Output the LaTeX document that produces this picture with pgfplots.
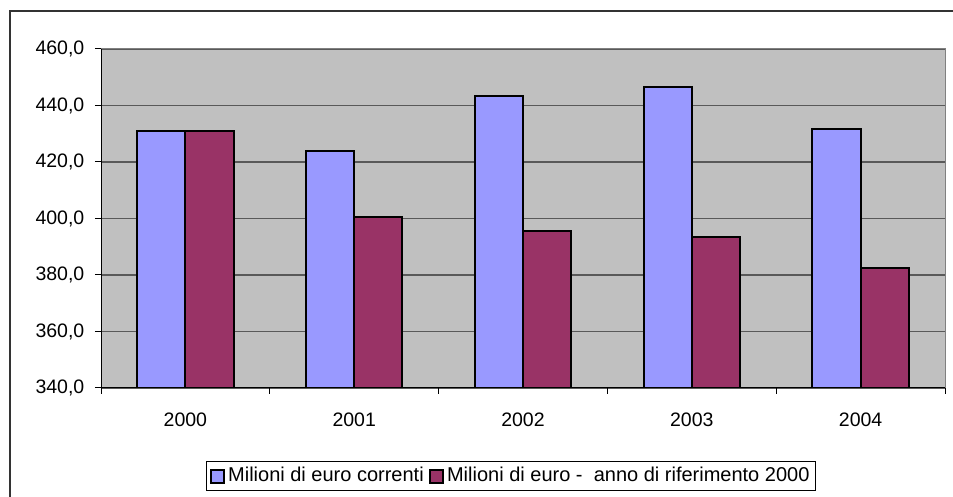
\documentclass[border=0pt]{standalone}
\usepackage{fontspec}
\setmainfont{Liberation Sans}
\usepackage{pgfplots}
\pgfplotsset{compat=1.18}
\definecolor{cblue}{HTML}{9999FF}
\definecolor{cmaroon}{HTML}{993366}
\definecolor{plotbg}{HTML}{C0C0C0}
\definecolor{gridc}{HTML}{595959}
\definecolor{framec}{HTML}{333333}
\pgfplotsset{mylegend/.style={legend image code/.code={\draw[##1, line width=1.8pt] (0pt,-6.5pt) rectangle (13.5pt,6.5pt);}}}
\begin{document}
\fontsize{19.5}{23}\selectfont
\begin{tikzpicture}[x=1pt,y=1pt]
\useasboundingbox (0,0) rectangle (953,497);
\draw[line width=1.2pt, color=framec] (10,-5) -- (10,486) -- (960,486);
\begin{axis}[
  at={(101pt,109pt)}, anchor=south west,
  scale only axis, width=844pt, height=339pt,
  xmin=-0.5, xmax=4.5, ymin=340, ymax=460,
  axis background/.style={fill=plotbg},
  axis line style={draw=gray, line width=1pt},
  ytick={340,360,...,460},
  yticklabel style={xshift=-4pt, /pgf/number format/.cd, fixed, fixed zerofill, precision=1, use comma, assume math mode=true},
  xtick={0,1,2,3,4},
  xticklabels={2000,2001,2002,2003,2004},
  major x tick style={draw=none},
  minor xtick={-0.5,0.5,1.5,2.5,3.5,4.5},
  tick align=outside,
  xtick pos=bottom, ytick pos=left,
  major tick length=6pt, minor tick length=6pt,
  tick style={black, line width=1pt},
  ymajorgrids, major grid style={gridc, line width=1.1pt},
  xticklabel style={yshift=-12pt},
  legend columns=2,
  legend style={at={(0.486,-0.26)}, anchor=center, draw=black, line width=1pt, inner xsep=3pt, inner ysep=4pt,
    font=\fontsize{20}{24}\selectfont,
    nodes={inner xsep=3pt},
    /tikz/every even column/.append style={column sep=2pt}},
]
\addplot[ybar, bar width=0.2857, bar shift=-0.14285, fill=cblue, draw=black, line width=2pt, mylegend]
  coordinates {(0,430.8) (1,423.8) (2,443.5) (3,446.5) (4,431.8)};
\addlegendentry{Milioni di euro correnti}
\addplot[ybar, bar width=0.2857, bar shift=0.14285, fill=cmaroon, draw=black, line width=2pt, mylegend]
  coordinates {(0,430.8) (1,400.4) (2,395.4) (3,393.5) (4,382.6)};
\addlegendentry{Milioni di euro -\ \ anno di riferimento 2000}
\draw[black, line width=1.2pt] (rel axis cs:0,1) -- (rel axis cs:0,0) -- (rel axis cs:1,0);
\end{axis}
\end{tikzpicture}
\end{document}
